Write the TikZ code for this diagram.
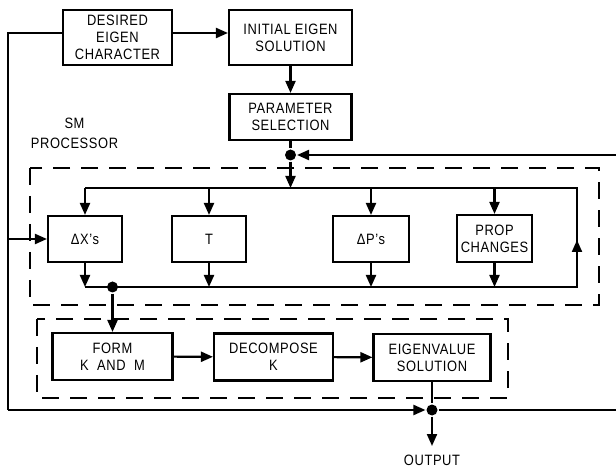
\documentclass[tikz,border=0pt]{standalone}
\usepackage{fontspec}
\setmainfont{Liberation Sans}[LetterSpace=4,FakeStretch=0.86]
\usetikzlibrary{arrows.meta}
\begin{document}
\begin{tikzpicture}[x=1pt,y=-1pt,
  line width=2.1pt,
  box/.style={draw,rectangle,align=center,inner sep=0pt,font=\fontsize{15}{17}\selectfont},
  arr/.style={-{Triangle[length=12pt,width=10pt]}},
  grp/.style={draw,dash pattern=on 17pt off 11pt,line width=2.1pt},
  jdot/.style={circle,fill,inner sep=0pt,minimum size=11pt},
  lbl/.style={align=center,font=\fontsize{15}{20}\selectfont}]
\useasboundingbox (0,0) rectangle (616,470);
% dashed group boxes
\draw[grp] (30,168) rectangle (599,305);
\draw[grp] (37,319) rectangle (508,398);
% boxes
\node[box,minimum width=109pt,minimum height=55pt] (des) at (117.5,37.5) {DESIRED\\EIGEN\\CHARACTER};
\node[box,minimum width=123pt,minimum height=55pt] (ini) at (290.5,37.5) {INITIAL EIGEN\\SOLUTION};
\node[box,minimum width=122pt,minimum height=46pt] (par) at (290.5,117) {PARAMETER\\SELECTION};
\node[jdot] (d1) at (290.5,155) {};
\node[box,minimum width=74pt,minimum height=46pt] (dx) at (85,239) {ΔX's};
\node[box,minimum width=74pt,minimum height=46pt] (t) at (209,239) {T};
\node[box,minimum width=76pt,minimum height=46pt] (dp) at (371,239) {ΔP's};
\node[box,minimum width=75pt,minimum height=47pt] (prop) at (494.5,238.5) {PROP\\CHANGES};
\node[jdot] (d2) at (112.5,287) {};
\node[box,minimum width=120pt,minimum height=47pt] (form) at (112.5,356.5) {FORM\\K\ \ AND\ \ M};
\node[box,minimum width=119pt,minimum height=47pt] (dec) at (273.5,357) {DECOMPOSE\\K};
\node[box,minimum width=117pt,minimum height=47pt] (eig) at (432,357.5) {EIGENVALUE\\SOLUTION};
\node[jdot] (d3) at (432,410) {};
\node[lbl] (sm) at (74.5,133) {SM\\PROCESSOR};
\node[lbl] (out) at (432,460) {OUTPUT};
% coordinates
\coordinate (tl) at (85,188);
\coordinate (tr) at (577,188);
\coordinate (bl) at (85,287);
\coordinate (br) at (577,287);
\coordinate (up) at (577,240);
\coordinate (lt) at (8,33);
\coordinate (lb) at (8,410);
\coordinate (lm) at (8,239);
\coordinate (re1) at (616,155);
\coordinate (re2) at (616,410);
\coordinate (outp) at (432,446);
% top chain
\draw[arr] ([yshift=4.5pt]des.east) -- ([yshift=4.5pt]ini.west);
\draw[arr] (ini) -- (par);
\draw (par.south) -- (d1);
\draw[arr] (re1) -- (d1.east);
\draw[arr] (d1) -- (d1|-tl);
% distribution bus
\draw (tl) -- (tr) -- (br) -- (bl);
\draw[arr] (br) -- (up);
\draw[arr] (dx.north|-tl) -- (dx.north);
\draw[arr] (t.north|-tl) -- (t.north);
\draw[arr] (dp.north|-tl) -- (dp.north);
\draw[arr] (prop.north|-tl) -- (prop.north);
\draw[arr] (dx.south) -- (dx.south|-bl);
\draw[arr] (t.south) -- (t.south|-bl);
\draw[arr] (dp.south) -- (dp.south|-bl);
\draw[arr] (prop.south) -- (prop.south|-bl);
% lower chain
\draw[arr] (d2) -- (form.north);
\draw[arr] (form) -- (dec);
\draw[arr] (dec) -- (eig);
\draw (eig.south) -- (d3);
\draw[arr] (d3) -- (outp);
% outer loop
\draw ([yshift=4.5pt]des.west) -- (lt) -- (lb);
\draw[arr] (lb) -- (d3.west);
\draw (d3) -- (re2);
\draw[arr] (lm) -- (dx.west);
\end{tikzpicture}
\end{document}
